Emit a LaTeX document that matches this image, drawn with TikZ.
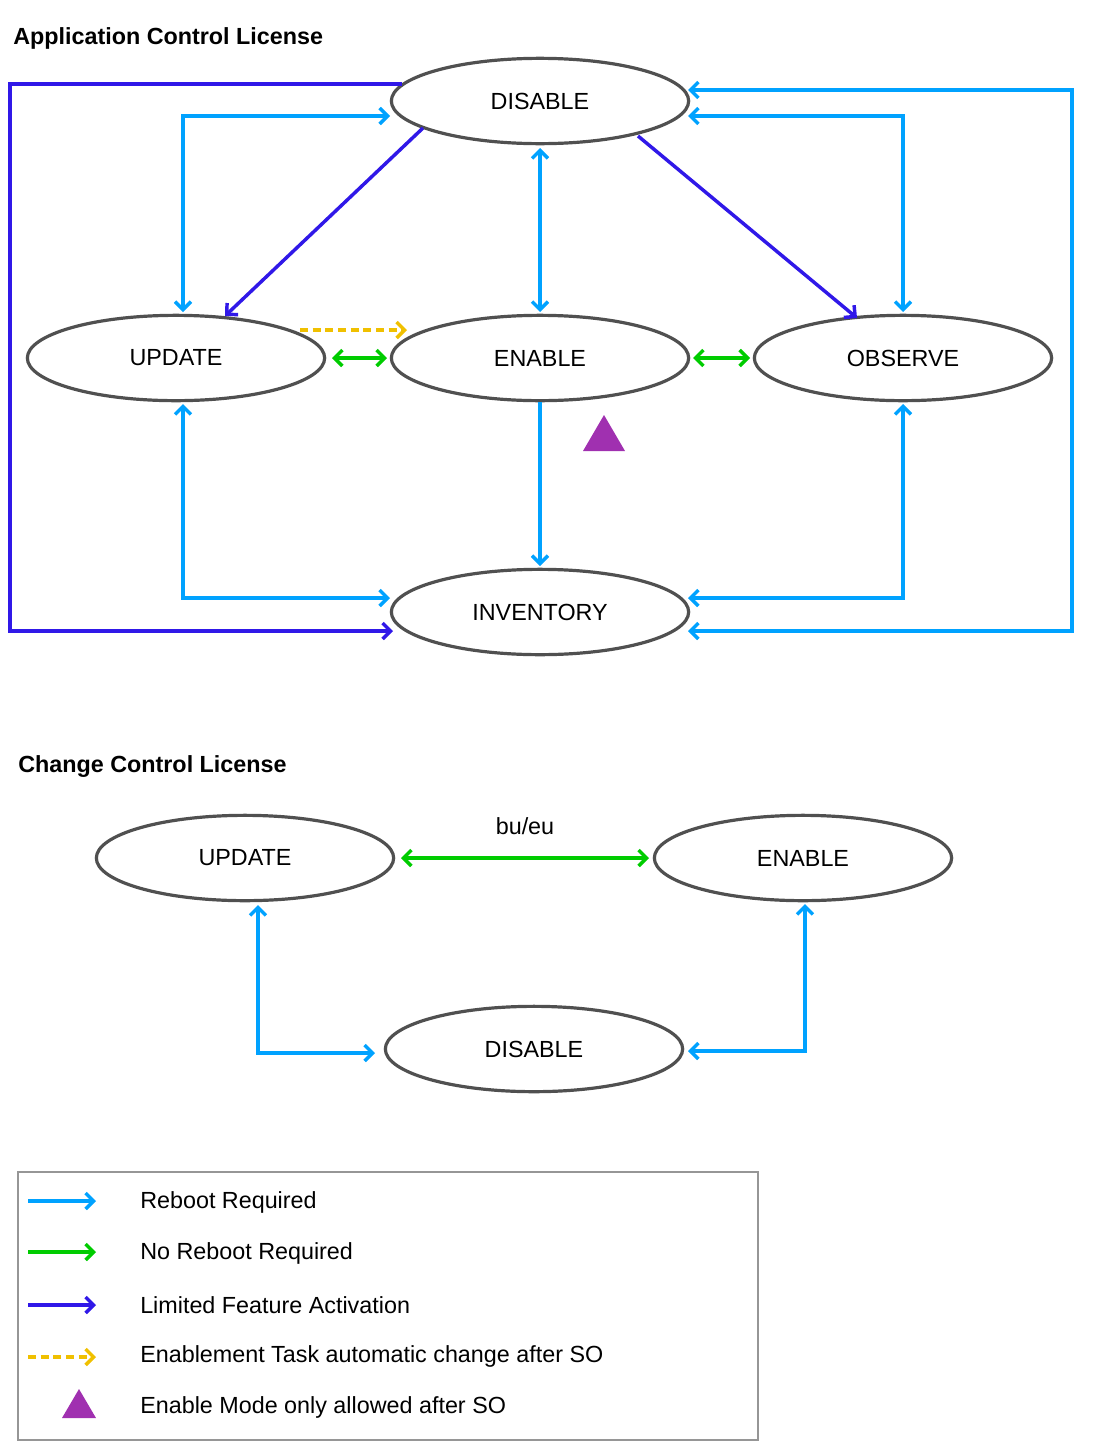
\documentclass[tikz,border=0pt]{standalone}
\usepackage{fontspec}
\setmainfont{Liberation Sans}
\usetikzlibrary{arrows.meta,shapes.geometric}
\definecolor{reboot}{RGB}{0,162,255}
\definecolor{noreboot}{RGB}{0,204,0}
\definecolor{limited}{RGB}{48,24,232}
\definecolor{autochg}{RGB}{240,192,0}
\definecolor{somode}{RGB}{160,48,176}
\definecolor{rim}{RGB}{80,80,80}
\tikzset{
  mode/.style={ellipse,draw=rim,line width=2.4pt,minimum width=223pt,minimum height=64pt,inner sep=0pt,font=\fontsize{17.5}{21}\selectfont},
  lic/.style={font=\bfseries\fontsize{17.5}{21}\selectfont,anchor=west,inner sep=0pt},
  lab/.style={font=\fontsize{17.5}{21}\selectfont,anchor=west,inner sep=0pt},
  rb/.style={draw=reboot,line width=2.6pt},
  nrb/.style={draw=noreboot,line width=2.6pt},
  lfa/.style={draw=limited,line width=2.6pt},
  tsk/.style={draw=autochg,line width=2.6pt,dash pattern=on 6pt off 3.5pt},
  tip/.style={-{Straight Barb[length=6pt,width=12pt]}},
  tips/.style={{Straight Barb[length=6pt,width=12pt]}-{Straight Barb[length=6pt,width=12pt]}}
}
\begin{document}
\begin{tikzpicture}[x=0.75pt,y=-0.75pt]
  \useasboundingbox (0,0) rectangle (1096,1453);
  % application control
  \node[lic] (appttl) at (13,38) {Application Control License};
  \node(dis)[mode] at (540,101) {DISABLE};
  \node(upd)[mode] at (176,358) {UPDATE};
  \node(ena)[mode] at (540,358) {ENABLE};
  \node(obs)[mode] at (903,358) {OBSERVE};
  \node(inv)[mode] at (540,612) {INVENTORY};
  \fill[somode] (583,451) -- (625,451) -- (604,415) -- cycle;
  \draw[lfa,tip] (423,128) -- (225,316);
  \draw[lfa,tip] (638,136) -- (857,318);
  \draw[lfa,tip] (402,84) -- (10,84) -- (10,631) -- (393,631);
  \draw[rb,tips] (183,312) -- (183,116) -- (390,116);
  \draw[rb,tips] (540,148) -- (540,312);
  \draw[rb,tips] (688,116) -- (903,116) -- (903,312);
  \draw[rb,tips] (688,90) -- (1072,90) -- (1072,631) -- (688,631);
  \draw[rb,tips] (183,404) -- (183,598) -- (390,598);
  \draw[rb,tips] (903,404) -- (903,598) -- (688,598);
  \draw[rb,tip] (540,402) -- (540,566);
  \draw[nrb,tips] (332,358) -- (387,358);
  \draw[nrb,tips] (693,358) -- (750,358);
  \draw[tsk,tip] (300,330) -- (407,330);
  % change control
  \node[lic] (chgttl) at (18,767) {Change Control License};
  \node(cupd)[mode] at (245,858) {UPDATE};
  \node(cena)[mode] at (803,858) {ENABLE};
  \node(cdis)[mode] at (534,1049) {DISABLE};
  \draw[nrb,tips] (401,858) -- node[above=16pt,inner sep=0pt,font=\fontsize{17.5}{21}\selectfont]{bu/eu} (649,858);
  \draw[rb,tips] (258,905) -- (258,1053) -- (375,1053);
  \draw[rb,tips] (805,904) -- (805,1051) -- (688,1051);
  % legend
  \draw[draw=rim!60,line width=0.8pt] (18,1172) rectangle (758,1440);
  \draw[rb,tip] (28,1201) -- (96,1201);
  \draw[nrb,tip] (28,1252) -- (96,1252);
  \draw[lfa,tip] (28,1305) -- (96,1305);
  \draw[tsk,tip] (28,1357) -- (96,1357);
  \fill[somode] (62,1418) -- (96,1418) -- (79,1389) -- cycle;
  \node[lab] (l1) at (140,1202) {Reboot Required};
  \node[lab] (l2) at (140,1253) {No Reboot Required};
  \node[lab] (l3) at (140,1305) {Limited Feature Activation};
  \node[lab] (l4) at (140,1356) {Enablement Task automatic change after SO};
  \node[lab] (l5) at (140,1407) {Enable Mode only allowed after SO};
\end{tikzpicture}
\end{document}
